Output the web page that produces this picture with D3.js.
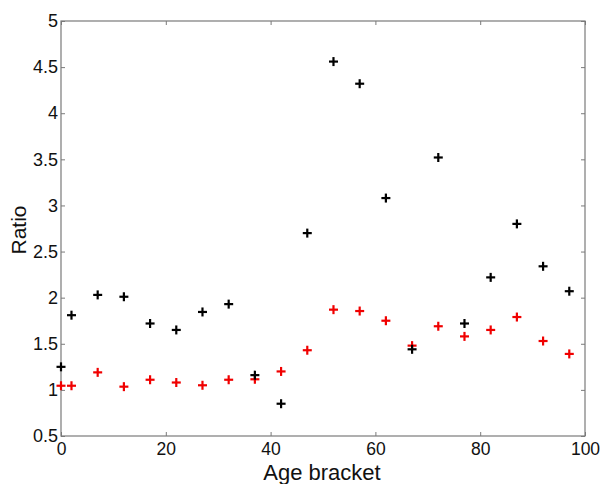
<!DOCTYPE html>
<html><head><meta charset="utf-8">
<script src="https://cdn.jsdelivr.net/npm/d3@7"></script>
<style>body{margin:0;background:#fff}svg{display:block}text{font-family:"Liberation Sans",Arial,sans-serif;fill:#111}</style>
</head><body>
<svg id="c" width="600" height="484"></svg>
<script>
const ages = [0,2,7,12,17,22,27,32,37,42,47,52,57,62,67,72,77,82,87,92,97];
const blackSeries = [1.25,1.81,2.03,2.01,1.72,1.65,1.845,1.93,1.16,0.85,2.70,4.56,4.32,3.08,1.44,3.52,1.72,2.22,2.80,2.34,2.07];
const redSeries = [1.045,1.045,1.19,1.035,1.11,1.08,1.05,1.11,1.115,1.20,1.43,1.87,1.855,1.75,1.48,1.69,1.58,1.65,1.79,1.53,1.39];
const xTicks = [0,20,40,60,80,100];
const yTicks = [0.5,1,1.5,2,2.5,3,3.5,4,4.5,5];

const L=61,R=585,T=21,B=436;
const svg=d3.select("#c");
const x=d3.scaleLinear().domain([0,100]).range([L,R]);
const y=d3.scaleLinear().domain([0.5,5]).range([B,T]);
const axCol="#7a7a7a";
function style(g){g.select(".domain").remove();g.selectAll(".tick line").attr("stroke",axCol);}
svg.append("g").attr("transform",`translate(0,${B})`)
  .call(d3.axisBottom(x).tickValues(xTicks).tickSize(-4).tickPadding(8).tickFormat(d3.format("d")))
  .call(style).call(g=>g.selectAll("text").attr("font-size",17.5).attr("dy","0.6em"));
svg.append("g").attr("transform",`translate(0,${T})`)
  .call(d3.axisTop(x).tickValues(xTicks).tickSize(-4).tickFormat(""))
  .call(style);
svg.append("g").attr("transform",`translate(${L},0)`)
  .call(d3.axisLeft(y).tickValues(yTicks).tickSize(-4).tickPadding(3).tickFormat(d=>String(d)))
  .call(style).call(g=>g.selectAll("text").attr("font-size",18));
svg.append("g").attr("transform",`translate(${R},0)`)
  .call(d3.axisRight(y).tickValues(yTicks).tickSize(-4).tickFormat(""))
  .call(style);
svg.append("rect").attr("x",L).attr("y",T).attr("width",R-L).attr("height",B-T)
  .attr("fill","none").attr("stroke",axCol).attr("stroke-width",1.2);

function drawPlus(data,color){
  const g=svg.append("g").attr("stroke",color).attr("stroke-width",2.2);
  data.forEach((v,i)=>{
    const cx=x(ages[i]),cy=y(v),s=4.5;
    g.append("line").attr("x1",cx-s).attr("x2",cx+s).attr("y1",cy).attr("y2",cy);
    g.append("line").attr("x1",cx).attr("x2",cx).attr("y1",cy-s).attr("y2",cy+s);
  });
}
drawPlus(redSeries,"#f00000");
drawPlus(blackSeries,"#000");

svg.append("text").attr("x",322).attr("y",479.5).attr("text-anchor","middle")
  .attr("font-size",22).text("Age bracket");
svg.append("text").attr("transform",`translate(26,230) rotate(-90)`).attr("text-anchor","middle")
  .attr("font-size",21).text("Ratio");
</script>
</body></html>
